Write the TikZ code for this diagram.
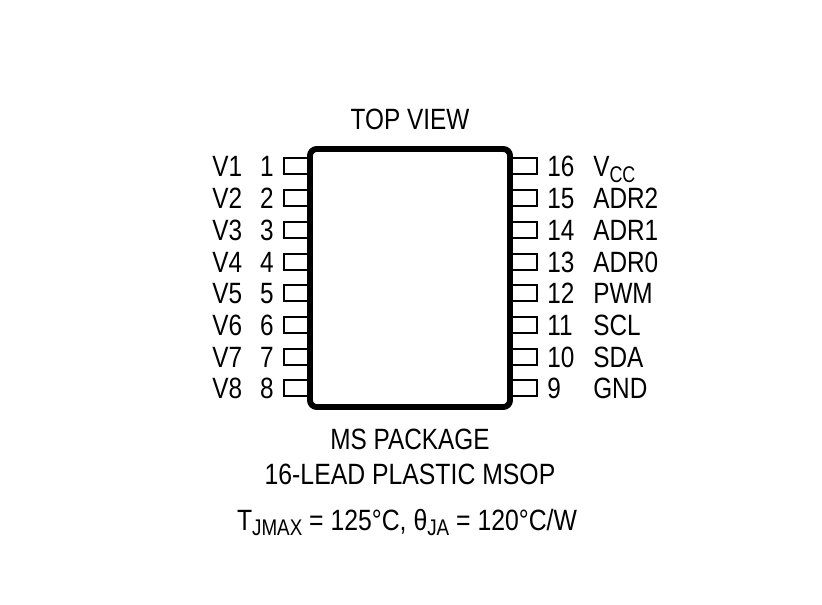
\documentclass[tikz,border=0pt]{standalone}
\usepackage{fontspec}
\setmainfont{Liberation Sans}
\newcommand{\tl}[1]{\scalebox{0.83}[1]{#1}}
\newcommand{\tlw}[1]{\scalebox{0.845}[1]{#1}}
\newcommand{\subs}[1]{\raisebox{-3.75pt}{\scalebox{0.83}[1]{\fontsize{17pt}{19pt}\selectfont #1}}}
\newcommand{\subw}[1]{\raisebox{-4.2pt}{\scalebox{0.95}[1]{\fontsize{17pt}{19pt}\selectfont #1}}}
\tikzset{
 body/.style={draw=black,line width=4.4pt,rounded corners=5pt},
 pinbox/.style={draw=black,line width=1.4pt},
 lab/.style={font=\fontsize{22pt}{24pt}\selectfont,inner sep=0pt,text=black},
}
\begin{document}
\begin{tikzpicture}[x=0.75pt,y=-0.75pt]
\useasboundingbox (0,0) rectangle (822,605);
\fill[white] (0,0) rectangle (822,605);
\foreach \n/\y/\lname in {1/166/V1,2/198/V2,3/230/V3,4/262/V4,5/293/V5,6/325/V6,7/357/V7,8/388/V8}{
  \draw[pinbox] (308,\y-8) -- (284,\y-8) -- (284,\y+8) -- (308,\y+8);
  \node[lab,anchor=base east] (ln\n) at (274,\y+11) {\tl{\n}};
  \node[lab,anchor=base west] (ls\n) at (212,\y+11) {\tl{\lname}};
}
\foreach \n/\y/\lname in {16/166/V\subw{CC},15/198/ADR2,14/230/ADR1,13/262/ADR0,12/293/PWM,11/325/SCL,10/357/SDA,9/388/GND}{
  \draw[pinbox] (512,\y-8) -- (537,\y-8) -- (537,\y+8) -- (512,\y+8);
  \node[lab,anchor=base west] (rn\n) at (547,\y+11) {\tl{\n}};
  \node[lab,anchor=base west] (rs\n) at (593,\y+11) {\tl{\lname}};
}
\draw[body] (310,149) rectangle (510,407);
\node[lab,anchor=base] (top) at (410,130) {\tl{TOP VIEW}};
\node[lab,anchor=base] (pkg) at (410,450) {\tl{MS PACKAGE}};
\node[lab,anchor=base] (lead) at (410,484.5) {\tlw{16-LEAD PLASTIC MSOP}};
\node[lab,anchor=base] (therm) at (407,530.5) {\tlw{T}\subs{JMAX}\tlw{ = 125°C, θ}\subs{JA}\tlw{ = 120°C/W}};
\end{tikzpicture}
\end{document}
